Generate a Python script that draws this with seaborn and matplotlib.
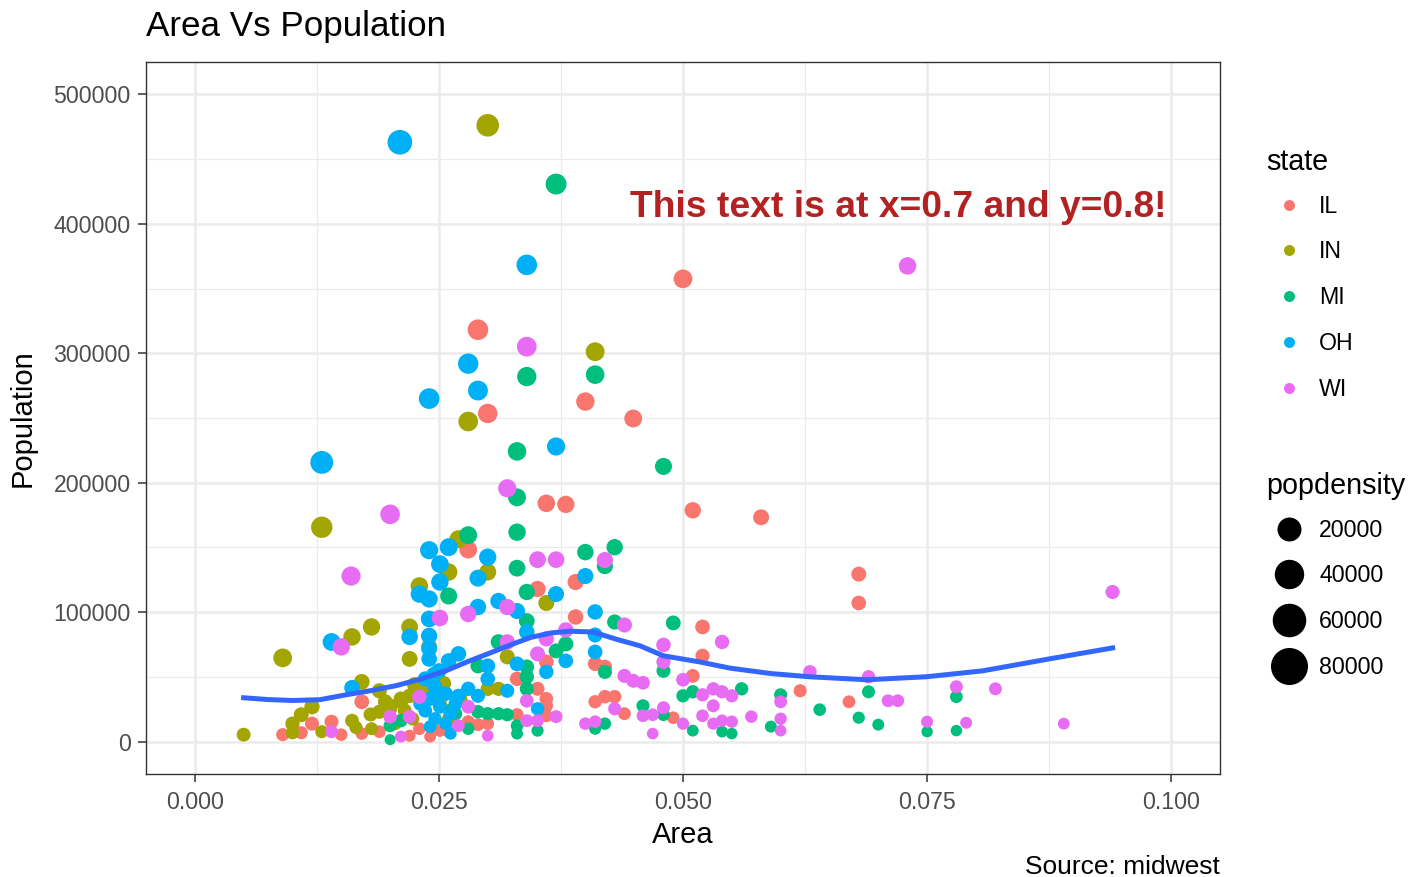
import numpy as np
import pandas as pd
import seaborn as sns
import matplotlib
matplotlib.use("Agg")
import matplotlib.pyplot as plt
from matplotlib.lines import Line2D
from matplotlib.ticker import FixedLocator

# ---------------- data ----------------
states = ["IL", "IN", "MI", "OH", "WI"]
state_colors = ["#F8766D", "#A3A500", "#00BF7D", "#00B0F6", "#E76BF3"]

il_area = [0.0500, 0.0290, 0.0300, 0.0400, 0.0449, 0.0360, 0.0380, 0.0510, 0.0580, 0.0680,
           0.0680, 0.0280, 0.0390, 0.0351, 0.0390, 0.0520, 0.0360, 0.0520, 0.0410, 0.0330,
           0.0510, 0.0351, 0.0360, 0.0360, 0.0410, 0.0420, 0.0430, 0.0440, 0.0330, 0.0280,
           0.0290, 0.0300, 0.0260, 0.0251, 0.0220, 0.0230, 0.0171, 0.0090, 0.0109, 0.0120,
           0.0140, 0.0150, 0.0171, 0.0189, 0.0620, 0.0670, 0.0490, 0.0360, 0.0241, 0.0420]
il_pop = [357500, 318200, 253500, 262700, 249600, 184100, 183300, 178700, 173300, 129400,
          107100, 148300, 123300, 117900, 96300, 88600, 61600, 66300, 60100, 48500,
          50800, 40800, 33100, 27700, 30800, 34700, 34700, 21600, 20800, 15400,
          13100, 13900, 7700, 8500, 4600, 10000, 30800, 5400, 6900, 13900,
          15400, 5400, 6200, 7700, 39300, 30800, 18500, 20000, 3900, 57800]
il_density = [7150, 10970, 8450, 6570, 5560, 5110, 4820, 3500, 2990, 1900,
              1580, 5300, 3160, 3360, 2470, 1700, 1710, 1280, 1470, 1470,
              1000, 1160, 920, 770, 750, 830, 810, 490, 630, 550,
              450, 460, 300, 340, 210, 430, 1800, 600, 630, 1160,
              1100, 360, 360, 410, 630, 460, 380, 560, 160, 1380]

in_area = [0.0300, 0.0410, 0.0280, 0.0130, 0.0270, 0.0260, 0.0300, 0.0230, 0.0360, 0.0090,
           0.0161, 0.0181, 0.0220, 0.0220, 0.0240, 0.0320, 0.0171, 0.0189, 0.0120, 0.0109,
           0.0100, 0.0100, 0.0050, 0.0130, 0.0161, 0.0181, 0.0189, 0.0200, 0.0211, 0.0220,
           0.0300, 0.0311, 0.0211, 0.0200, 0.0231, 0.0251, 0.0272, 0.0223, 0.0205,
           0.0225, 0.0195, 0.0180, 0.0215, 0.0260, 0.0240, 0.0165, 0.0255]
in_pop = [476100, 301200, 247300, 165600, 156400, 131000, 131000, 120200, 107100, 64700,
          80900, 88600, 88600, 63900, 73200, 65500, 46200, 39300, 27000, 20800,
          13900, 6900, 5400, 7700, 16200, 10000, 23100, 27700, 30800, 35400,
          40800, 40800, 33100, 25400, 40800, 29300, 33100, 17700, 13900,
          44000, 31000, 21000, 24000, 18000, 41000, 11000, 45000]
in_density = [15870, 7350, 8830, 12740, 5790, 5040, 4370, 5230, 2980, 7190,
              5020, 4900, 4030, 2900, 3050, 2050, 2700, 2080, 2250, 1910,
              1390, 690, 1080, 590, 1000, 550, 1220, 1390, 1460, 1610,
              1360, 1310, 1570, 1270, 1770, 1170, 1220, 800, 680,
              1960, 1590, 1170, 1120, 690, 1710, 670, 1760]

mi_area = [0.0370, 0.0340, 0.0410, 0.0330, 0.0480, 0.0330, 0.0330, 0.0280, 0.0330, 0.0400,
           0.0430, 0.0420, 0.0260, 0.0340, 0.0430, 0.0490, 0.0340, 0.0370, 0.0380, 0.0420,
           0.0290, 0.0311, 0.0340, 0.0340, 0.0340, 0.0480, 0.0311, 0.0320, 0.0290, 0.0300,
           0.0330, 0.0330, 0.0351, 0.0420, 0.0410, 0.0459, 0.0480, 0.0510, 0.0500, 0.0510,
           0.0540, 0.0550, 0.0560, 0.0600, 0.0590, 0.0640, 0.0680, 0.0690, 0.0700, 0.0750,
           0.0780, 0.0780, 0.0200, 0.0211, 0.0200, 0.0267, 0.0280, 0.0261]
mi_pop = [430700, 282000, 283500, 224200, 212600, 188700, 161800, 159500, 134000, 146400,
          150200, 135600, 112500, 115600, 92400, 91700, 93200, 70100, 75500, 53900,
          58500, 77000, 57800, 50100, 40800, 54700, 21600, 20800, 23100, 21600,
          12300, 6200, 8500, 13900, 10000, 27700, 20800, 8500, 35400, 38500,
          7700, 6200, 40800, 36200, 11600, 24700, 18500, 38500, 13100, 7700,
          34700, 8500, 12300, 16200, 1500, 21600, 10000, 23900]
mi_density = [11640, 8290, 6910, 6790, 4430, 5720, 4900, 5700, 4060, 3660,
              3490, 3230, 4330, 3400, 2150, 1870, 2740, 1890, 1990, 1280,
              2020, 2480, 1700, 1470, 1200, 1140, 690, 650, 800, 720,
              370, 190, 240, 330, 240, 600, 430, 170, 710, 750,
              140, 110, 730, 600, 200, 390, 270, 560, 190, 100,
              440, 110, 620, 770, 80, 810, 360, 910]

oh_area = [0.0210, 0.0340, 0.0280, 0.0290, 0.0240, 0.0370, 0.0130, 0.0240, 0.0260, 0.0300,
           0.0251, 0.0290, 0.0251, 0.0400, 0.0370, 0.0230, 0.0240, 0.0311, 0.0330, 0.0290,
           0.0410, 0.0240, 0.0220, 0.0240, 0.0140, 0.0240, 0.0410, 0.0410, 0.0340, 0.0360,
           0.0380, 0.0270, 0.0260, 0.0300, 0.0330, 0.0300, 0.0280, 0.0290, 0.0270, 0.0320,
           0.0351, 0.0161, 0.0250, 0.0236, 0.0246, 0.0257, 0.0241, 0.0251, 0.0236, 0.0262,
           0.0246, 0.0257, 0.0241, 0.0267, 0.0231, 0.0251, 0.0262, 0.0240, 0.0245]
oh_pop = [463000, 368300, 292000, 271200, 265000, 228000, 215700, 147900, 150200, 142500,
          137100, 126300, 123300, 127900, 114000, 114000, 110200, 108600, 100900, 104000,
          100200, 94800, 80900, 81700, 77000, 63900, 82400, 69300, 84700, 53900,
          62400, 67800, 62400, 58500, 60100, 48500, 40800, 35400, 35400, 39300,
          25400, 41600, 54700, 48500, 42400, 37000, 33100, 27000, 23900, 21600,
          17700, 13900, 11600, 29300, 29300, 37000, 6200, 72000, 52000]
oh_density = [22050, 10830, 10430, 9350, 11040, 6160, 16590, 6160, 5780, 4750,
              5460, 4360, 4910, 3200, 3080, 4960, 4590, 3490, 3060, 3590,
              2440, 3950, 3680, 3400, 5500, 2660, 2010, 1690, 2490, 1500,
              1640, 2510, 2400, 1950, 1820, 1620, 1460, 1220, 1310, 1230,
              720, 2580, 2190, 2060, 1720, 1440, 1370, 1070, 1010, 820,
              720, 540, 480, 1100, 1270, 1470, 240, 3000, 2120]

wi_area = [0.0730, 0.0340, 0.0320, 0.0200, 0.0160, 0.0351, 0.0370, 0.0420, 0.0940, 0.0150,
           0.0251, 0.0280, 0.0320, 0.0440, 0.0540, 0.0380, 0.0360, 0.0351, 0.0480, 0.0480,
           0.0320, 0.0440, 0.0449, 0.0459, 0.0500, 0.0520, 0.0531, 0.0540, 0.0550, 0.0531,
           0.0520, 0.0531, 0.0540, 0.0550, 0.0570, 0.0600, 0.0600, 0.0600, 0.0630, 0.0690,
           0.0710, 0.0720, 0.0750, 0.0780, 0.0820, 0.0790, 0.0890, 0.0469, 0.0459, 0.0480,
           0.0500, 0.0469, 0.0430, 0.0400, 0.0410, 0.0370, 0.0340, 0.0340, 0.0351, 0.0300,
           0.0270, 0.0280, 0.0230, 0.0200, 0.0220, 0.0211, 0.0140]
wi_pop = [367500, 305100, 195700, 175600, 127900, 140600, 140600, 140200, 115600, 73200,
          95500, 98600, 104000, 90100, 77000, 86300, 79400, 67800, 74700, 61600,
          77000, 50800, 47000, 45500, 47800, 36200, 40800, 38500, 35400, 27700,
          20000, 13900, 16200, 15400, 19300, 30800, 17700, 8500, 53900, 50100,
          31600, 31600, 15400, 42400, 40800, 14600, 13900, 20800, 20000, 26200,
          13900, 6200, 25400, 13900, 15400, 19300, 31600, 16200, 16200, 4600,
          12300, 27000, 34700, 19300, 19300, 3900, 7700]
wi_density = [5030, 8970, 6120, 8780, 7990, 4010, 3800, 3340, 1230, 4880,
              3800, 3520, 3250, 2050, 1430, 2270, 2200, 1930, 1560, 1280,
              2410, 1160, 1050, 990, 960, 700, 770, 710, 640, 520,
              390, 260, 300, 280, 340, 510, 300, 140, 860, 730,
              450, 440, 210, 540, 500, 190, 160, 440, 440, 550,
              280, 130, 590, 350, 380, 520, 930, 480, 460, 150,
              460, 960, 1510, 960, 880, 180, 550]

# loess curve
smooth_area = [0.0050, 0.0075, 0.0100, 0.0128, 0.0155, 0.0181, 0.0207, 0.0232, 0.0258, 0.0280,
               0.0300, 0.0326, 0.0344, 0.0365, 0.0384, 0.0408, 0.0430, 0.0456, 0.0480, 0.0517,
               0.0548, 0.0590, 0.0630, 0.0688, 0.0749, 0.0807, 0.0875, 0.0940]
smooth_pop = [33900, 32500, 31800, 32400, 36200, 39500, 43400, 48500, 55000, 62000,
              67800, 75500, 80500, 84000, 85300, 84700, 79500, 74000, 66300, 61600,
              56800, 52600, 50100, 47800, 50100, 54700, 63900, 72400]

x_ticks = [0.000, 0.025, 0.050, 0.075, 0.100]
x_tick_labels = ["0.000", "0.025", "0.050", "0.075", "0.100"]
x_minor = [0.0125, 0.0375, 0.0625, 0.0875]
y_ticks = [0, 100000, 200000, 300000, 400000, 500000]
y_tick_labels = ["0", "100000", "200000", "300000", "400000", "500000"]
y_minor = [50000, 150000, 250000, 350000, 450000]
density_breaks = [20000, 40000, 60000, 80000]
density_labels = ["20000", "40000", "60000", "80000"]
density_limits = (85, 88018)

# ---------------- build frame ----------------
frames = []
for st, a, p, d in [("IL", il_area, il_pop, il_density), ("IN", in_area, in_pop, in_density),
                    ("MI", mi_area, mi_pop, mi_density), ("OH", oh_area, oh_pop, oh_density),
                    ("WI", wi_area, wi_pop, wi_density)]:
    frames.append(pd.DataFrame({"state": st, "area": a, "poptotal": p, "popdensity": d}))
df = pd.concat(frames, ignore_index=True)


def marker_area(v):
    # ggplot-like area scale: diameter linear in sqrt of rescaled value
    n = max((v - density_limits[0]) / (density_limits[1] - density_limits[0]), 0.0)
    d_px = 11.0 + 27.3 * np.sqrt(n)
    return (d_px * 0.72) ** 2


# ---------------- figure ----------------
plt.rcParams["font.family"] = ["Liberation Sans", "DejaVu Sans"]
fig = plt.figure(figsize=(14.24, 8.77), dpi=100)
ax = fig.add_axes([146 / 1424, 103 / 877, 1074 / 1424, 712 / 877])

palette = dict(zip(states, state_colors))
size_map = {v: marker_area(v) for v in np.unique(df["popdensity"])}
sns.scatterplot(data=df, x="area", y="poptotal", hue="state", hue_order=states,
                palette=palette, size="popdensity", sizes=size_map,
                linewidth=0, alpha=1, legend=False, ax=ax, zorder=2)
sns.lineplot(x=smooth_area, y=smooth_pop, color="#3366FF", linewidth=3.6,
             sort=False, estimator=None, ax=ax, zorder=3)

ax.set_xlim(-0.005, 0.105)
ax.set_ylim(-25000, 525000)
ax.set_xticks(x_ticks)
ax.set_xticklabels(x_tick_labels)
ax.set_yticks(y_ticks)
ax.set_yticklabels(y_tick_labels)
ax.xaxis.set_minor_locator(FixedLocator(x_minor))
ax.yaxis.set_minor_locator(FixedLocator(y_minor))
ax.tick_params(which="major", direction="out", length=5.5, width=1.1, color="#333333",
               labelcolor="#4D4D4D", labelsize=16.7)
ax.tick_params(axis="x", which="major", pad=7)
ax.tick_params(axis="y", which="major", pad=5.5)
ax.tick_params(which="minor", length=0)
ax.grid(which="major", color="#EBEBEB", linewidth=1.8)
ax.grid(which="minor", color="#EBEBEB", linewidth=0.9)
ax.set_axisbelow(True)
for sp in ax.spines.values():
    sp.set_color("#333333")
    sp.set_linewidth(1.0)

ax.set_xlabel("Area", fontsize=21, color="black")
ax.set_ylabel("Population", fontsize=21, color="black")
ax.xaxis.set_label_coords(0.5, -0.066)
ax.yaxis.set_label_coords(-0.102, 0.5)

ax.text(0.7, 0.795, "This text is at x=0.7 and y=0.8!", transform=ax.transAxes,
        ha="center", va="center", fontsize=26.8, fontweight="bold", color="#B22222")

fig.text(146 / 1424, 1 - 36 / 877, "Area Vs Population", ha="left", va="baseline",
         fontsize=25.2, color="black")
fig.text(1220 / 1424, 1 - 874 / 877, "Source: midwest", ha="right", va="baseline",
         fontsize=19, color="black")

# ---------------- legends ----------------
state_handles = [Line2D([], [], marker="o", linestyle="", color=c, markersize=7.9,
                        markeredgewidth=0) for c in state_colors]
leg1 = fig.legend(state_handles, states, title="state", loc="upper left",
                  bbox_to_anchor=(1266 / 1424, 1 - 148 / 877), frameon=False,
                  fontsize=16.7, title_fontsize=20.7, alignment="left", borderpad=0,
                  borderaxespad=0, handlelength=2.0, handletextpad=0.3, labelspacing=0.98)
leg1._legend_box.sep = 13.5

size_handles = [Line2D([], [], marker="o", linestyle="", color="black",
                       markersize=np.sqrt(marker_area(v)), markeredgewidth=0)
                for v in density_breaks]
leg2 = fig.legend(size_handles, density_labels, title="popdensity", loc="upper left",
                  bbox_to_anchor=(1266 / 1424, 1 - 472 / 877), frameon=False,
                  fontsize=16.7, title_fontsize=20.7, alignment="left", borderpad=0,
                  borderaxespad=0, handlelength=2.0, handletextpad=0.3, labelspacing=0.98)
leg2._legend_box.sep = 13.5

fig.savefig("out.png", dpi=100)
